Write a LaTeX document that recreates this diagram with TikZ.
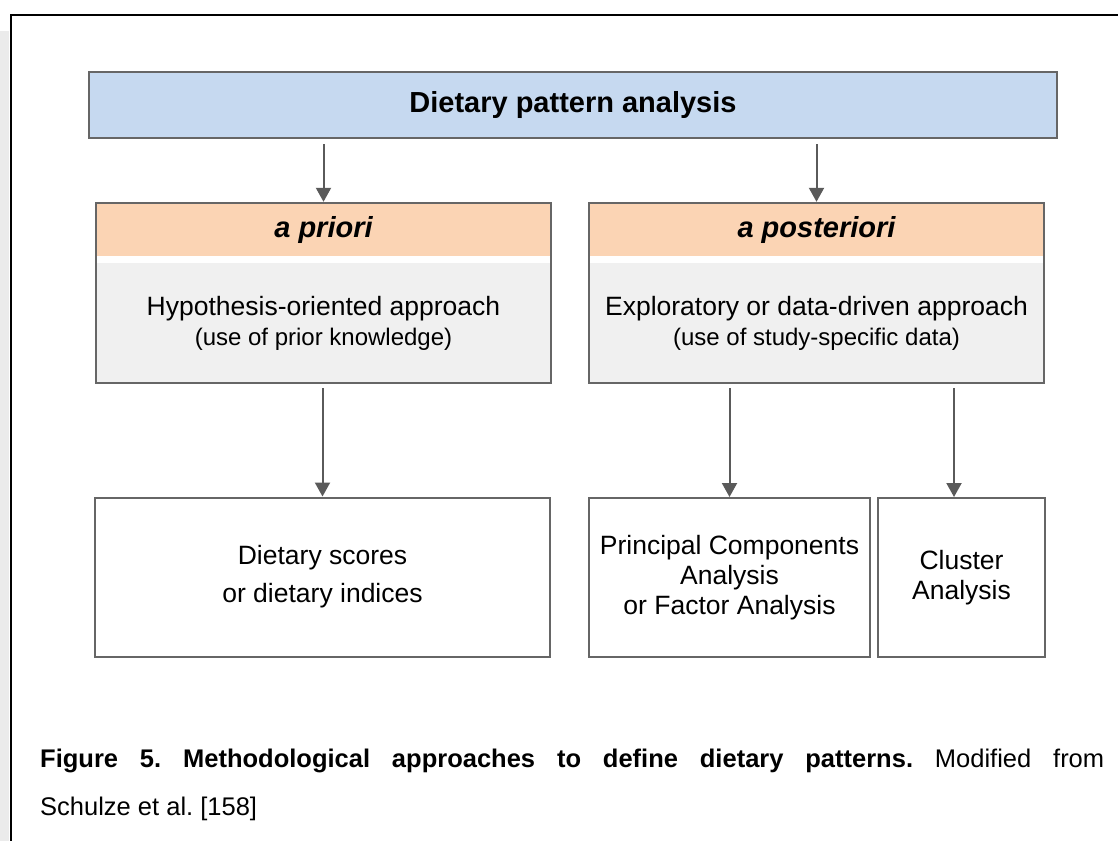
\documentclass[tikz,border=0pt]{standalone}
\usepackage{fontspec}
\setmainfont{Liberation Sans}
\usetikzlibrary{arrows.meta, fit}
\definecolor{hdrblue}{HTML}{C6D9F0}
\definecolor{peach}{HTML}{FBD4B4}
\definecolor{bodygray}{HTML}{F0F0F0}
\definecolor{edgegray}{HTML}{666666}
\definecolor{arrowgray}{HTML}{5A5A5A}
\definecolor{stripgray}{HTML}{EBEBEB}

\begin{document}
\frenchspacing
\begin{tikzpicture}[x=1pt, y=-1pt,
  >={Triangle[length=14pt, width=15pt]},
  box/.style={draw=edgegray, line width=2pt, inner sep=0pt, align=center,
              font=\fontsize{26.5}{30}\selectfont},
  head/.style={inner sep=0pt, minimum width=455pt, minimum height=53pt,
               fill=peach, font=\fontsize{29}{34}\selectfont\bfseries\itshape},
  body/.style={inner sep=0pt, minimum width=455pt, minimum height=120pt,
               fill=bodygray, align=center, font=\fontsize{26.5}{30}\selectfont},
  arr/.style={->, arrowgray, line width=2pt, shorten <=5pt}]

\useasboundingbox (0,0) rectangle (1118,841);

% Page edge
\fill[stripgray] (0,31) rectangle (9,841);
\draw[black, line width=2pt] (1118,15) -- (11,15) -- (11,841);

% ================================================================
% Top box
% ================================================================
\node[box, fill=hdrblue, minimum width=968pt, minimum height=66pt,
      font=\fontsize{29}{34}\selectfont\bfseries] (dpa) at (573,105)
  {Dietary pattern analysis};

% ================================================================
% a priori / a posteriori
% ================================================================
\node[head] (prihead) at (323.5,229.5) {a priori};
\node[body] (pribody) at (323.5,323)
  {Hypothesis-oriented approach\\
   \fontsize{24}{30}\selectfont (use of prior knowledge)};
\node[draw=edgegray, line width=2pt, inner sep=0pt,
      fit=(prihead)(pribody)] (apri) {};

\node[head] (posthead) at (816.5,229.5) {a posteriori};
\node[body] (postbody) at (816.5,323)
  {Exploratory or data-driven approach\\
   \fontsize{24}{30}\selectfont (use of study-specific data)};
\node[draw=edgegray, line width=2pt, inner sep=0pt,
      fit=(posthead)(postbody)] (apost) {};

% ================================================================
% Methods
% ================================================================
\node[box, minimum width=455pt, minimum height=159pt] (score) at (322.5,577)
  {Dietary scores\\[8pt] or dietary indices};
\node[box, minimum width=281pt, minimum height=159pt] (pca) at (729.5,577.5)
  {Principal Components\\ Analysis\\ or Factor Analysis};
\node[box, minimum width=167pt, minimum height=159pt] (clus) at (961.5,577.5)
  {Cluster\\ Analysis};
\coordinate (clusin) at ([xshift=-7.5pt]clus.north);

% Arrows
\draw[arr] (dpa.south -| apri.north) -- (apri.north);
\draw[arr] (dpa.south -| apost.north) -- (apost.north);
\draw[arr, shorten <=4pt] (apri.south -| score.north) -- (score.north);
\draw[arr, shorten <=4pt] (apost.south -| pca.north) -- (pca.north);
\draw[arr, shorten <=4pt] (apost.south -| clusin) -- (clusin);

% ================================================================
% Caption
% ================================================================
\node[anchor=base west, inner sep=0pt, font=\fontsize{25.5}{48}\selectfont]
  (cap1) at (40,767)
  {\makebox[1064pt][s]{\bfseries Figure 5. Methodological approaches to
   define dietary patterns. \mdseries Modified from}};
\node[anchor=base west, inner sep=0pt, font=\fontsize{25.5}{48}\selectfont]
  (cap2) at (40,815) {Schulze et al. [158]};

\end{tikzpicture}
\end{document}
